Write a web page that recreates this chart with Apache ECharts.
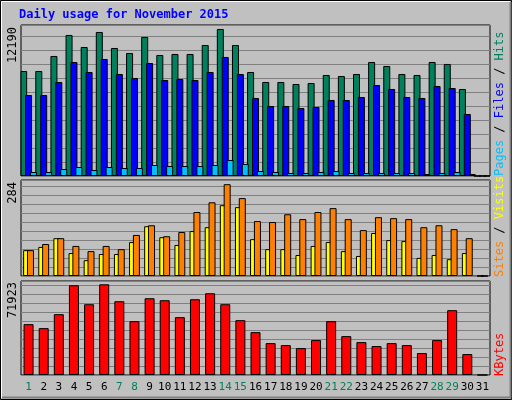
<!DOCTYPE html>
<html><head><meta charset="utf-8">
<script src="https://cdn.jsdelivr.net/npm/echarts@6/dist/echarts.min.js"></script>
<style>html,body{margin:0;padding:0;background:#c0c0c0}#c{width:512px;height:400px}</style>
</head><body><div id="c"></div>
<script>
var days=[];for(var i=1;i<=31;i++)days.push(String(i));
var weekend=['1','7','8','14','15','21','22','28','29'];
var hits=[8707,8707,9951,11693,10697,11941,10614,10200,11527,10034,10117,10117,10863,12190,10863,8624,7795,7795,7629,7712,8375,8292,8458,9453,9122,8458,8375,9453,9288,7214,0];
var files=[6717,6717,7795,9453,8624,9702,8458,8126,9370,7960,8043,7960,8624,9868,8458,6468,5804,5804,5639,5721,6302,6302,6551,7546,7214,6551,6468,7463,7297,5141,0];
var pages=[332,332,580,746,498,746,663,663,912,829,829,829,912,1327,995,415,332,249,249,332,415,249,249,249,249,249,166,249,332,166,0];
var visits=[80,99,117,93,77,93,83,127,157,123,136,198,228,284,241,170,167,191,176,198,210,176,142,182,179,176,151,157,145,117,0];
var sites=[80,90,117,71,49,68,68,105,154,120,96,139,151,219,213,114,83,83,65,93,105,77,62,133,111,108,56,65,52,71,0];
var kbytes=[40310,37150,48220,71140,56120,71923,58490,42680,60860,59280,45850,60070,64810,56120,43470,33990,25290,23710,21340,27660,42680,30830,26080,22920,25290,23710,17390,27660,51380,16600,0];
var maxLabels=['12190','284','71923'];

var F='DejaVu Sans Mono';
var grids=[{left:21,right:22,top:25,height:151},{left:21,right:22,top:180,height:96},{left:21,right:22,top:281,height:94}];
grids.forEach(function(g){g.show=true;g.backgroundColor='#c0c0c0';g.borderColor='#000';g.borderWidth=1;});
var ymax=[12520,297,74530], yint=[1160,27.8,7110];
var xAxes=[],yAxes=[];
for(var k=0;k<3;k++){
  xAxes.push({type:'category',gridIndex:k,data:days,axisTick:{show:false},axisLine:{show:false},
    axisLabel:{show:k==2,fontFamily:F,fontSize:11,margin:7,interval:0,
      color:function(v){return weekend.indexOf(v)>=0?'#00805c':'#000';}}});
  yAxes.push({type:'value',gridIndex:k,min:0,max:ymax[k],interval:yint[k],axisLabel:{show:false},
    axisLine:{show:false},axisTick:{show:false},splitLine:{lineStyle:{color:'#808080',width:1}}});
}
function bar(name,data,k,color,w,gap){return {name:name,type:'bar',xAxisIndex:k,yAxisIndex:k,data:data,barWidth:w,barGap:gap,
  itemStyle:{color:color,borderColor:'#000',borderWidth:1},animation:false,silent:true};}
var series=[bar('Hits',hits,0,'#00805c',7,'-30%'),bar('Files',files,0,'#0000ff',7,'-30%'),bar('Pages',pages,0,'#00c0ff',7,'-30%'),
  bar('Sites',sites,1,'#ffff00',7,'-45%'),bar('Visits',visits,1,'#ff8000',7,'-45%'),
  bar('KBytes',kbytes,2,'#ff0000',10,'0%')];
var R=Math.PI/2;
function vt(x,y,text,rich,align){return {type:'text',x:x,y:y,rotation:R,style:{text:text,rich:rich,font:'12px '+F,fill:'#000',align:align,verticalAlign:'middle'}};}
var graphic=[
  {type:'rect',shape:{x:0.5,y:0.5,width:511,height:399},style:{fill:null,stroke:'#000'}},
  {type:'polyline',shape:{points:[[1.5,398],[1.5,1.5],[510,1.5]]},style:{stroke:'#fff',fill:null}},
  {type:'polyline',shape:{points:[[2,397.5],[510.5,397.5],[510.5,2]]},style:{stroke:'#808080',fill:null,lineWidth:2}},
  {type:'text',x:19,y:15,style:{text:'Daily usage for November 2015',font:'bold 12px '+F,fill:'#0000ff',verticalAlign:'middle'}},
  vt(13,27,maxLabels[0],null,'right'),vt(13,182,maxLabels[1],null,'right'),vt(13,282,maxLabels[2],null,'right'),
  vt(500,176,'{p|Pages}{k| / }{f|Files}{k| / }{h|Hits}',{p:{fill:'#00c0ff',font:'12px '+F},k:{fill:'#000',font:'12px '+F},f:{fill:'#0000ff',font:'12px '+F},h:{fill:'#00805c',font:'12px '+F}},'left'),
  vt(500,277,'{s|Sites}{k| / }{v|Visits}',{s:{fill:'#ff8000',font:'12px '+F},k:{fill:'#000',font:'12px '+F},v:{fill:'#ffff00',font:'12px '+F}},'left'),
  vt(500,376,'{r|KBytes}',{r:{fill:'#ff0000',font:'12px '+F}},'left')
];
var chart=echarts.init(document.getElementById('c'));
chart.setOption({backgroundColor:'#c0c0c0',animation:false,grid:grids,xAxis:xAxes,yAxis:yAxes,series:series,graphic:graphic});
</script></body></html>
